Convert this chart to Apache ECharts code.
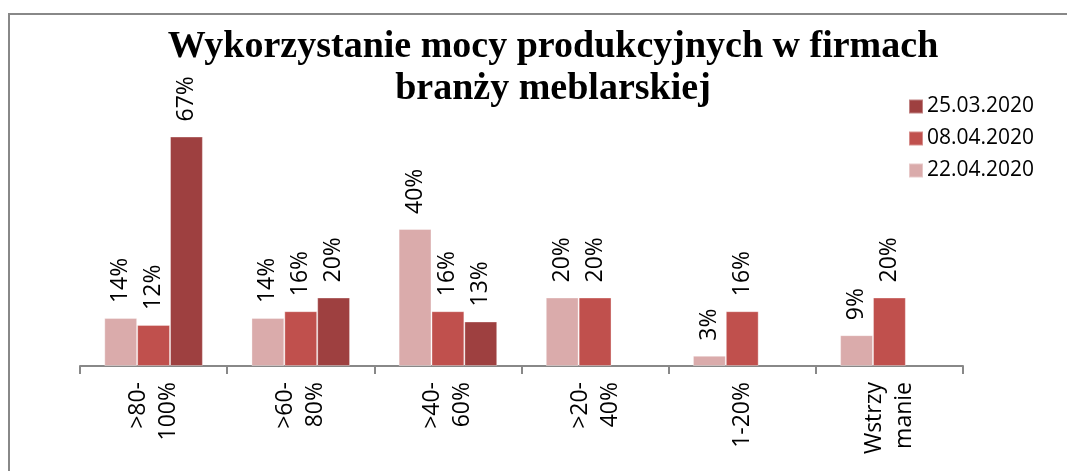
<!DOCTYPE html>
<html>
<head>
<meta charset="utf-8">
<script src="https://cdn.jsdelivr.net/npm/echarts@6/dist/echarts.min.js"></script>
<style>
  html, body { margin: 0; padding: 0; background: #fff; }
  #chart { width: 1067px; height: 471px; }
</style>
</head>
<body>
<div id="chart"></div>
<script>
  // kategorie i wartości (w %)
  const categories = ['>80-\n100%', '>60-\n80%', '>40-\n60%', '>20-\n40%', '1-20%', 'Wstrzy\nmanie'];
  const series2204 = [14, 14, 40, 20, 3, 9];
  const series0804 = [12, 16, 16, 20, 16, 20];
  const series2503 = [67, 20, 13, null, null, null];
  const legendOrder = ['25.03.2020', '08.04.2020', '22.04.2020'];

  const chart = echarts.init(document.getElementById('chart'));

  const labelStyle = {
    show: true,
    position: 'top',
    rotate: 90,
    align: 'left',
    verticalAlign: 'middle',
    distance: 15,
    fontFamily: 'Open Sans',
    fontSize: 23,
    color: '#000',
    formatter: p => p.value + '%'
  };

  function bar(name, data, color) {
    return {
      name: name,
      type: 'bar',
      data: data,
      barGap: '0%',
      barCategoryGap: '33%',
      itemStyle: { color: color, borderColor: 'rgba(255,255,255,0.35)', borderWidth: 1 },
      label: labelStyle
    };
  }

  const option = {
    animation: false,
    title: {
      text: 'Wykorzystanie mocy produkcyjnych w firmach\nbranży meblarskiej',
      left: 548,
      textAlign: 'center',
      top: 21,
      textStyle: {
        fontFamily: 'Liberation Serif',
        fontWeight: 'bold',
        fontSize: 38,
        lineHeight: 42,
        color: '#000'
      }
    },
    legend: {
      orient: 'vertical',
      left: 903,
      top: 91,
      itemWidth: 14,
      itemHeight: 14,
      itemGap: 11,
      icon: 'rect',
      data: legendOrder,
      textStyle: { fontFamily: 'Open Sans', fontSize: 21, color: '#000', padding: [0, 0, 0, -1] }
    },
    grid: { left: 80, right: 104, top: 92, bottom: 105 },
    xAxis: {
      type: 'category',
      data: categories,
      axisLine: { lineStyle: { color: '#888', width: 2 } },
      axisTick: { show: true, length: 8, lineStyle: { color: '#888', width: 2 } },
      axisLabel: {
        rotate: 90,
        interval: 0,
        margin: 16,
        fontFamily: 'Open Sans',
        fontSize: 23,
        lineHeight: 30,
        color: '#000'
      }
    },
    yAxis: {
      type: 'value',
      min: 0,
      max: 80,
      show: false,
      splitLine: { show: false }
    },
    series: [
      bar('22.04.2020', series2204, '#DAABAB'),
      bar('08.04.2020', series0804, '#C0504D'),
      bar('25.03.2020', series2503, '#9E4040')
    ],
    graphic: [{
      type: 'rect',
      shape: { x: 9, y: 14, width: 1100, height: 500 },
      style: { fill: 'none', stroke: '#888', lineWidth: 2 },
      silent: true
    }]
  };

  chart.setOption(option);
</script>
</body>
</html>
